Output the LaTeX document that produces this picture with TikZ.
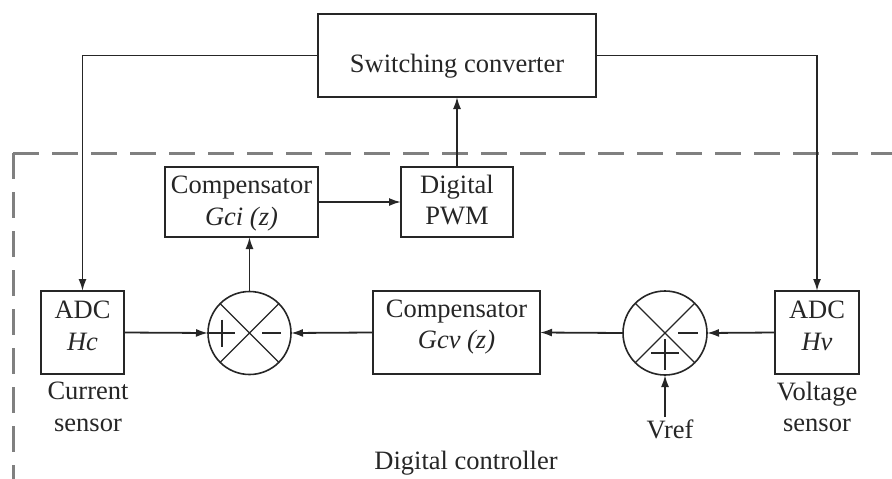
\documentclass[tikz,border=0pt]{standalone}
\usepackage{fontspec}
\setmainfont{Liberation Serif}
\usetikzlibrary{arrows.meta}
\begin{document}
\begin{tikzpicture}[x=1pt,y=-1pt,
  blk/.style={draw=black!85, line width=1.8pt, rectangle, inner sep=0pt, outer sep=0pt},
  sumj/.style={draw=black!85, line width=1.6pt, circle, inner sep=0pt, outer sep=0pt},
  txt/.style={anchor=base, inner sep=0pt, text=black!85, font=\fontsize{26.5}{30}\selectfont},
  wire/.style={draw=black!85, line width=1.8pt},
  arr/.style={wire, -{Latex[length=12pt,width=8pt]}},
  sign/.style={draw=black!85, line width=1.5pt},
  frame/.style={draw=black!50, line width=3pt, dash pattern=on 26pt off 13pt}]
\useasboundingbox (0,0) rectangle (892,479);

% digital controller boundary
\draw[frame] (13,153) -- (892,153);
\draw[frame] (13,153) -- (13,479);

% blocks
\node[blk, minimum width=278pt, minimum height=83pt] (conv) at (457,55.5) {};
\node[blk, minimum width=153pt, minimum height=70pt] (gci) at (241.5,202) {};
\node[blk, minimum width=112pt, minimum height=70pt] (pwm) at (457,202) {};
\node[blk, minimum width=83pt, minimum height=83pt] (hc) at (82.5,332.5) {};
\node[blk, minimum width=167pt, minimum height=83pt] (gcv) at (456.5,332.5) {};
\node[blk, minimum width=84pt, minimum height=83pt] (hv) at (817,332.5) {};

% summing junctions
\node[sumj, minimum size=83pt] (s1) at (249.5,333) {};
\node[sumj, minimum size=84pt] (s2) at (665,333) {};
\draw[sign, line width=1.3pt] (s1.45) -- (s1.225) (s1.135) -- (s1.315);
\draw[sign, line width=1.3pt] (s2.45) -- (s2.225) (s2.135) -- (s2.315);
\draw[sign] ([shift={(-27.5,-13.5)}]s1.center) -- ([shift={(-27.5,13.5)}]s1.center)
            ([shift={(-40.5,0)}]s1.center) -- ([shift={(-14.5,0)}]s1.center);
\draw[sign] ([shift={(12.5,0)}]s1.center) -- ([shift={(31.5,0)}]s1.center);
\draw[sign] ([shift={(13,0)}]s2.center) -- ([shift={(33,0)}]s2.center);
\draw[sign] ([shift={(-14,20)}]s2.center) -- ([shift={(14,20)}]s2.center)
            ([shift={(0,6)}]s2.center) -- ([shift={(0,37)}]s2.center);

% texts
\node[txt] (tconv) at (457,72) {Switching converter};
\node[txt] (tgci1) at (241.5,193) {Compensator};
\node[txt] (tgci2) at (241.5,225) {\itshape Gci (z)};
\node[txt] (tpwm1) at (457,193) {Digital};
\node[txt] (tpwm2) at (457,224) {PWM};
\node[txt] (thc1) at (82.5,318) {ADC};
\node[txt] (thc2) at (82.5,350) {\itshape Hc};
\node[txt] (tgcv1) at (456.5,317) {Compensator};
\node[txt] (tgcv2) at (456.5,348) {\itshape Gcv (z)};
\node[txt] (thv1) at (817,318) {ADC};
\node[txt] (thv2) at (817,350) {\itshape Hv};
\node[txt] (tcur1) at (88,399) {Current};
\node[txt] (tcur2) at (88,431) {sensor};
\node[txt] (tvol1) at (817,400) {Voltage};
\node[txt] (tvol2) at (817,431) {sensor};
\node[txt] (tvref) at (670,438) {Vref};
\node[txt] (tdc) at (466,469) {Digital controller};

% connectors
\coordinate (vin) at (665,417);
\draw[arr] (conv.west) -| (hc.north);
\draw[arr] (conv.east) -| (hv.north);
\draw[arr] (pwm.north) -- (conv.south);
\draw[arr] (gci.east) -- (pwm.west);
\draw[arr] (s1.north) -- (s1.north |- gci.south);
\draw[arr] (hc.east) -- (s1.west);
\draw[arr] (gcv.west) -- (s1.east);
\draw[arr] (s2.west) -- (gcv.east);
\draw[arr] (hv.west) -- (s2.east);
\draw[arr] (vin) -- (s2.south);
\end{tikzpicture}
\end{document}
